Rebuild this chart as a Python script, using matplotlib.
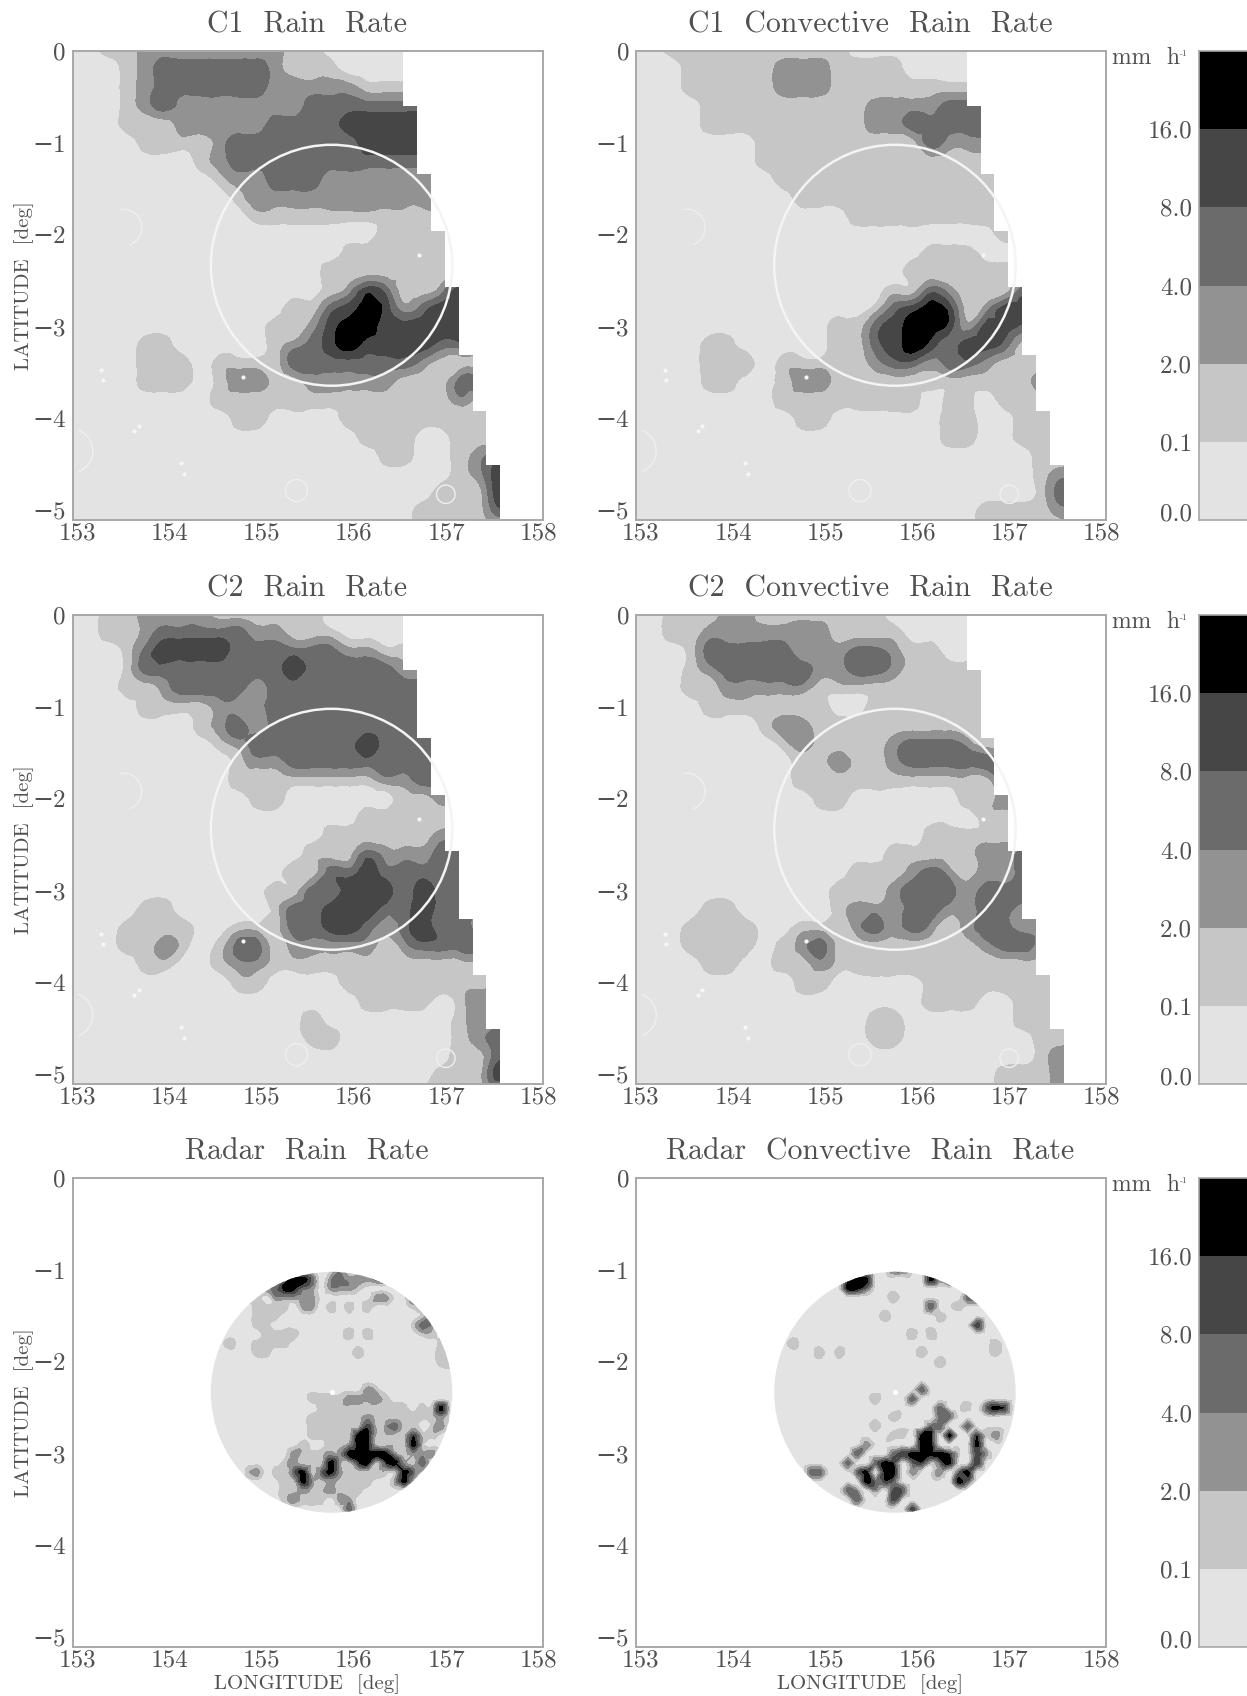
import matplotlib
matplotlib.use('Agg')
import matplotlib.pyplot as plt
import matplotlib.patches as mpatches
import matplotlib.transforms as mtrans
import matplotlib.tri as mtri
import numpy as np

# digit = rain class (0: 0.0-0.1 ... 5: above 16 mm/h)
# model fields: one row every 0.2 deg of latitude, one column every 0.2 deg of longitude
C1_RAIN = [
    "0011222222221100000000000", "0001233333321110000000000", "0001233333322222111111111",
    "0001232222222333333333333", "0001112222233334444444444", "0000111123333333444444444",
    "0000000123333333333333333", "0000000012233322222222222", "0000000001222222222233333",
    "0000000000111111111111111", "0000000000000000011111111", "0000000000000001111111111",
    "0000000000000011111111111", "0000000000000012431124444", "0000000000001134542344444",
    "0000000000011245544444444", "0000110000012345444433333", "0000111011113333333211111",
    "0000111012211222221113333", "0000000011111111111112111", "0000000001100001111111111",
    "0000000000000000111001111", "0000000000000000011001233", "0000000000000000000001244",
    "0000000000000000000011144", "0000000000000000000111133", "0000000000000000000111111",
]
C1_CONV = [
    "0011111111110000000000000", "0001111122211110000000000", "0001111122211111111111111",
    "0000111111111222233333333", "0000111111111223333333333", "0000000111111111322211111",
    "0000000111111111111111111", "0000000011111111111111111", "0000000001111111111111111",
    "0000000000001111111111111", "0000000000000000000011111", "0000000000000000111000000",
    "0000000000000001111111111", "0000000000000011321113311", "0000000000000134541244111",
    "0000000000011345542443111", "0000110000011345434431111", "0000111011111233233211111",
    "0000110012211111111111222", "0000000011111111011011111", "0000000001100000011001111",
    "0000000000000000011001111", "0000000000000000000000111", "0000000000000000000000122",
    "0000000000000000000000133", "0000000000000000000111122", "0000000000000000000111111",
]
C2_RAIN = [
    "0011222211111100000000000", "0011233333221110000000000", "0001344443333332211111111",
    "0001333333334333332222222", "0001123333233333333333333", "0000111122233333333333333",
    "0000000123233333333333333", "0000000012333333433333333", "0000000001223333333333333",
    "0000000001111111122333333", "0000000000110000001122222", "0000000000000000111111111",
    "0000000000000011111122222", "0000000000000111322233333", "0000000000001133433333333",
    "0000000000011334443433333", "0000110000013344433433333", "0001111001113344323433222",
    "0001121013312222212333333", "0000110012211111111111111", "0000000001100001111111111",
    "0000000000000000111101222", "0000000000000100000001222", "0000000000000110000001233",
    "0000000000000000000001133", "0000000000000000000011144", "0000000000000000000111111",
]
C2_CONV = [
    "0011122111111100000000000", "0011222222211110000000000", "0001333332223321100000000",
    "0001233333223321111111111", "0001122222111111111111111", "0000111111100111111111111",
    "0000000122111111111111111", "0000000012111123332111111", "0000000001121123333333333",
    "0000000001111111111133333", "0000000000110000001122222", "0000000000000000000111111",
    "0000000000000000111111111", "0000000000000011111223333", "0000000000001112321223333",
    "0000000000011123332333333", "0000110000012223322332222", "0001111001112323212332222",
    "0001111012311111111233222", "0000110011211111111111111", "0000000001100000111111111",
    "0000000000000000111001122", "0000000000000110000001111", "0000000000000110000000111",
    "0000000000000000000000122", "0000000000000000000011122", "0000000000000000000011122",
]
# radar fields: 0.1 deg grid from 154.5E, -1.0 downwards
RADAR_RAIN = [
    "000000000000002",
    "00000000355302322232",
    "00000023553202221",
    "00000102222200000022002",
    "000001111022010101000011",
    "00000111000000000000000121",
    "0000011000000000000000132",
    "0000001111000001010000011",
    "001001111000000000000000011",
    "00000110000000001000000001",
    "000000000000000000000000011",
    "0",
    "0",
    "0000000000000000021",
    "00000000000111122221",
    "00000000000011111111110115",
    "00000000000111111211111112",
    "00000000000111111412311012",
    "0000000000011111551111411",
    "000000000010011255111151",
    "0000000002111225555521222",
    "000000001211152145145213",
    "000012011351352111111531",
    "00000000115212111100251",
    "00000000112112111",
    "0000000012111022",
    "0000000000000003",
    "0",
]
RADAR_CONV = [
    "000000000000033",
    "00000000455000000524",
    "00000000553",
    "00000000000001000000033",
    "000000000000000003001",
    "0000000000001000001",
    "00000000000000000000004",
    "000000000000000101",
    "0010000000000000000000001",
    "0000010100000000100000001",
    "0000000000000000001",
    "0",
    "0",
    "00000000000000003",
    "0000000000010003",
    "00000000000000000030010354",
    "00000000000001000033",
    "00000000000100000330 03".replace(" ", ""),
    "0000000000000110550500412",
    "0000000000200000550000 5".replace(" ", ""),
    "00000000030003455554104 2".replace(" ", ""),
    "00000000300354034135004",
    "000033000350550200203 5".replace(" ", ""),
    "0000000000534 3000000 53".replace(" ", ""),
    "00000000320204 3".replace(" ", ""),
    "00000000030004",
    "0000000000000004",
    "0",
]

COLORS = ['#e3e3e3', '#c6c6c6', '#929292', '#6b6b6b', '#464646', '#000000']
LEVELS = [-0.5, 0.5, 1.5, 2.5, 3.5, 4.5, 5.5]
CB_LABELS = ['0.0', '0.1', '2.0', '4.0', '8.0', '16.0']
XTICKS = [153, 154, 155, 156, 157, 158]
YTICKS = [0, -1, -2, -3, -4, -5]

# right edge of the model domain, one step per latitude band
MASK_LAT = [0, -0.6, -1.34, -1.96, -2.57, -3.31, -3.91, -4.5, -5.1]
MASK_LON = [156.59, 156.74, 156.89, 157.04, 157.19, 157.34, 157.49, 157.64]

RADAR_LON, RADAR_LAT, RADAR_R = 155.81, -2.33, 1.31

# coast outlines, white: lon, lat, radius, start angle, end angle
COAST_ARCS = [(153.55, -1.92, 0.2, -70, 100), (152.98, -4.35, 0.24, -70, 70),
              (155.43, -4.78, 0.12, 0, 360), (157.05, -4.82, 0.1, 0, 360)]
COAST_LON = [153.31, 153.33, 153.67, 153.72, 154.18, 154.21, 154.85, 156.76]
COAST_LAT = [-3.47, -3.58, -4.13, -4.08, -4.48, -4.6, -3.55, -2.22]

TEXT = '#505050'
FONT = ['cmr10', 'DejaVu Serif']
plt.rcParams['font.family'] = FONT
plt.rcParams['axes.unicode_minus'] = True

W, H = 1247, 1696


def to_grid(rows, ncols):
    return np.array([[int(c) for c in r.ljust(ncols, '0')[:ncols]] for r in rows])


def new_axes(left, top, right, bottom):
    return fig.add_axes([left / W, 1 - bottom / H, (right - left) / W, (bottom - top) / H])


def smooth_contour(ax, lon, lat, z, zorder=1):
    # same class field, contoured through matplotlib's cubic tri refiner so edges come out round
    gx, gy = np.meshgrid(lon, lat)
    tri = mtri.Triangulation(gx.ravel(), gy.ravel())
    values = z.ravel().astype(float)
    refiner = mtri.UniformTriRefiner(tri)
    fine, fz = refiner.refine_field(values, subdiv=3)
    _, flin = refiner.refine_field(values, mtri.LinearTriInterpolator(tri, values), subdiv=3)
    # keep the cubic overshoot from opening a new class on a flat patch
    fz = np.clip(fz, flin - 0.45, flin + 0.45)
    return ax.tricontourf(fine, fz, levels=LEVELS, colors=COLORS, zorder=zorder)


def panel(left, top, title, ylabel=False, xlabel=False):
    ax = new_axes(left, top, left + 470, top + 469)
    ax.set_xlim(153, 158.1)
    ax.set_ylim(-5.1, 0)
    for s in ax.spines.values():
        s.set_color('#a8a8a8')
        s.set_linewidth(1.4)
        s.set_zorder(20)
    ax.set_xticks(XTICKS)
    ax.set_yticks(YTICKS)
    ax.set_yticklabels([str(t).replace('-', '\u2212') for t in YTICKS])
    ax.tick_params(length=0, labelsize=18, labelcolor=TEXT)
    ax.tick_params(axis='x', pad=2)
    ax.tick_params(axis='y', pad=5)
    # tick labels sit a little right of their ticks in the original
    off = mtrans.ScaledTranslation(5 / 100, 0, fig.dpi_scale_trans)
    for lab in ax.get_xticklabels():
        lab.set_transform(lab.get_transform() + off)
    fig.text((left + 234) / W, 1 - (top - 26) / H, title, ha='center', va='center',
             fontsize=21.5, color=TEXT)
    if ylabel:
        fig.text(24 / W, 1 - (top + 235) / H, 'LATITUDE  [deg]', rotation=90, ha='center',
                 va='center', fontsize=15, color=TEXT)
    if xlabel:
        fig.text((left + 234) / W, 1 - (top + 506) / H, 'LONGITUDE  [deg]', ha='center',
                 va='center', fontsize=15, color=TEXT)
    return ax


def model_panel(ax, rows):
    z = to_grid(rows, 25)
    lon = 153 + 0.2 * np.arange(z.shape[1])
    lat = -0.2 * np.arange(z.shape[0])
    smooth_contour(ax, lon, lat, z)
    for i in range(len(MASK_LON)):
        ax.fill_betweenx([MASK_LAT[i], MASK_LAT[i + 1]], MASK_LON[i], 158.1, color='white',
                         lw=0, zorder=2)
    for x, y, r, a, b in COAST_ARCS:
        ax.add_patch(mpatches.Arc((x, y), 2 * r, 2 * r, theta1=a, theta2=b, color='#efefef',
                                  lw=1, zorder=3))
    ax.scatter(COAST_LON, COAST_LAT, s=9, color='#f6f6f6', lw=0, zorder=3)
    ax.add_patch(mpatches.Circle((RADAR_LON, RADAR_LAT), RADAR_R, fill=False, ec='#f4f4f4',
                                 lw=1.8, zorder=4))


def radar_panel(ax, rows):
    z = to_grid(rows, 28)
    lon = 154.5 + 0.1 * np.arange(z.shape[1])
    lat = -1.0 - 0.1 * np.arange(z.shape[0])
    cs = smooth_contour(ax, lon, lat, z)
    clip = mpatches.Circle((RADAR_LON, RADAR_LAT), RADAR_R, transform=ax.transData)
    cs.set_clip_path(clip)
    ax.scatter([RADAR_LON], [RADAR_LAT], s=14, color='white', lw=0, zorder=3)


def colorbar(top):
    ax = new_axes(1199, top, 1250, top + 469)
    ax.pcolormesh([0, 1], np.arange(7), np.arange(6).reshape(6, 1),
                  cmap=matplotlib.colors.ListedColormap(COLORS), vmin=-0.5, vmax=5.5)
    ax.set_xticks([])
    ax.set_yticks([0.1, 1, 2, 3, 4, 5])
    ax.set_yticklabels(CB_LABELS)
    ax.tick_params(length=0, labelsize=18, labelcolor=TEXT, pad=5)
    for s in ax.spines.values():
        s.set_color('#a8a8a8')
        s.set_linewidth(1.2)
    fig.text(1112 / W, 1 - (top + 7) / H, 'mm  h', ha='left', va='center', fontsize=17,
             color=TEXT)
    fig.text(1180 / W, 1 - (top + 3) / H, '-1', ha='left', va='center', fontsize=6.5,
             color=TEXT)


fig = plt.figure(figsize=(W / 100, H / 100), dpi=100)

TOPS = [51, 615, 1178]
LEFTS = [72.6, 636]
model_panel(panel(LEFTS[0], TOPS[0], 'C1  Rain  Rate', ylabel=True), C1_RAIN)
model_panel(panel(LEFTS[1], TOPS[0], 'C1  Convective  Rain  Rate'), C1_CONV)
model_panel(panel(LEFTS[0], TOPS[1], 'C2  Rain  Rate', ylabel=True), C2_RAIN)
model_panel(panel(LEFTS[1], TOPS[1], 'C2  Convective  Rain  Rate'), C2_CONV)
radar_panel(panel(LEFTS[0], TOPS[2], 'Radar  Rain  Rate', ylabel=True, xlabel=True), RADAR_RAIN)
radar_panel(panel(LEFTS[1], TOPS[2], 'Radar  Convective  Rain  Rate', xlabel=True), RADAR_CONV)
for t in TOPS:
    colorbar(t)

fig.savefig('out.png', dpi=100)
